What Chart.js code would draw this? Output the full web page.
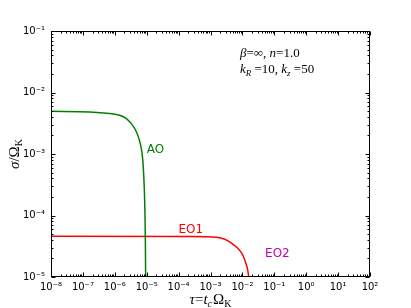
<!DOCTYPE html>
<html>
<head>
<meta charset="utf-8">
<script src="https://cdn.jsdelivr.net/npm/chart.js@4.4.1/dist/chart.umd.min.js"></script>
<style>
  html, body { margin: 0; padding: 0; background: #ffffff; }
  #wrap { width: 411px; height: 308px; }
</style>
</head>
<body>
<div id="wrap"><canvas id="growth_chart"></canvas></div>
<script>
// decade exponents shown on the axes
const xDecades = [-8, -7, -6, -5, -4, -3, -2, -1, 0, 1, 2]
const yDecades = [-5, -4, -3, -2, -1]

// AO branch
const aoTau = [1e-8, 1.62e-7, 6.87e-7, 1.42e-6, 2.3e-6, 3.3e-6, 4.5e-6, 5.71e-6, 6.79e-6, 7.46e-6, 7.85e-6, 8.2e-6, 8.63e-6, 9.08e-6, 9.27e-6, 9.3e-6]
const aoSigma = [4.94e-3, 4.82e-3, 4.54e-3, 4.26e-3, 3.77e-3, 3.12e-3, 2.43e-3, 1.78e-3, 1.22e-3, 8.42e-4, 5.79e-4, 3.74e-4, 1.77e-4, 3.95e-5, 1e-5, 6.1e-6]

// EO1 branch
const eoTau = [1e-8, 2.2e-4, 1.57e-3, 2.8e-3, 4.64e-3, 7.17e-3, 9.58e-3, 1.19e-2, 1.43e-2, 1.59e-2, 1.71e-2]
const eoSigma = [4.59e-5, 4.57e-5, 4.42e-5, 4.1e-5, 3.53e-5, 2.93e-5, 2.43e-5, 1.89e-5, 1.38e-5, 1e-5, 7.9e-6]

// curve names and where they sit (data coords)
const curveNames = ["AO", "EO1", "EO2"]
const nameTau = [1.9e-5, 2.4e-4, 0.125]
const nameSigma = [1.15e-3, 5.9e-5, 2.34e-5]
const nameColors = ["#008000", "#ff0000", "#bf00bf"]

const sup = { "-": "\u207B", 0: "\u2070", 1: "\u00B9", 2: "\u00B2", 3: "\u00B3", 4: "\u2074", 5: "\u2075", 6: "\u2076", 7: "\u2077", 8: "\u2078", 9: "\u2079" }
const powLabel = (v) => {
  const e = Math.round(Math.log10(v))
  return "10" + String(e).split("").map((c) => sup[c]).join("")
}

const serif = "'Liberation Serif', 'DejaVu Serif', serif"

// draw a run of [text, font, dy, gap] pieces starting at x,y
function rich(ctx, parts, x, y) {
  parts.forEach(([t, f, dy, gap]) => {
    ctx.font = f
    ctx.fillText(t, x, y + (dy || 0))
    x += ctx.measureText(t).width + (gap || 0)
  })
  return x
}
function richWidth(ctx, parts) {
  let w = 0
  parts.forEach(([t, f, dy, gap]) => {
    ctx.font = f
    w += ctx.measureText(t).width + (gap || 0)
  })
  return w
}

const frameTicks = {
  id: "frameTicks",
  afterDatasetsDraw(chart) {
    const { ctx, chartArea: a, scales } = chart
    ctx.save()
    ctx.strokeStyle = "#000000"
    ctx.lineWidth = 1
    const line = (x1, y1, x2, y2) => {
      ctx.beginPath()
      ctx.moveTo(x1, y1)
      ctx.lineTo(x2, y2)
      ctx.stroke()
    }
    const L = a.left + 0.5, R = a.right - 0.5, T = a.top + 0.5, B = a.bottom - 0.5
    xDecades.forEach((d) => {
      for (let m = 1; m <= 9; m++) {
        const v = m * Math.pow(10, d)
        if (v > 100.0001) break
        const px = Math.round(scales.x.getPixelForValue(v)) + 0.5
        const len = m === 1 ? 4 : 2
        line(px, B, px, B - len)
        line(px, T, px, T + len)
      }
    })
    yDecades.forEach((d) => {
      for (let m = 1; m <= 9; m++) {
        const v = m * Math.pow(10, d)
        if (v > 0.100001) break
        const py = Math.round(scales.y.getPixelForValue(v)) + 0.5
        const len = m === 1 ? 4 : 2
        line(L, py, L + len, py)
        line(R, py, R - len, py)
      }
    })
    ctx.strokeRect(L, T, R - L, B - T)

    // curve names
    ctx.textBaseline = "middle"
    ctx.textAlign = "center"
    ctx.font = "12px 'DejaVu Sans'"
    curveNames.forEach((n, i) => {
      ctx.fillStyle = nameColors[i]
      ctx.fillText(n, scales.x.getPixelForValue(nameTau[i]), scales.y.getPixelForValue(nameSigma[i]))
    })

    // parameter note
    ctx.fillStyle = "#000000"
    ctx.textAlign = "left"
    ctx.textBaseline = "alphabetic"
    const it = "italic 13px " + serif, rm = "13px " + serif, sub = "italic 9px " + serif
    rich(ctx, [["\u03B2", it], ["=\u221E, ", rm], ["n", it], ["=1.0", rm]], 240, 57)
    rich(ctx, [["k", it], ["R", sub, 3], [" =10, ", rm], ["k", it], ["z", sub, 3], [" =50", rm]], 240, 73)

    // axis titles
    const xt = [["\u03C4", "italic 15px " + serif], ["=", "15px " + serif], ["t", "italic 15px " + serif], ["c", "italic 10px " + serif, 3, 1], ["\u03A9", "15px " + serif], ["K", "10px " + serif, 3]]
    const xw = richWidth(ctx, xt)
    rich(ctx, xt, (a.left + a.right) / 2 - xw / 2, 304)

    const yt = [["\u03C3", "italic 15px " + serif], ["/\u03A9", "15px " + serif], ["K", "10px " + serif, 3]]
    const yw = richWidth(ctx, yt)
    ctx.translate(19, (a.top + a.bottom) / 2)
    ctx.rotate(-Math.PI / 2)
    rich(ctx, yt, -yw / 2, 0)
    ctx.restore()
  },
}

new Chart(document.getElementById("growth_chart"), {
  type: "line",
  plugins: [frameTicks],
  data: {
    datasets: [
      {
        label: "AO",
        data: aoTau.map((t, i) => ({ x: t, y: aoSigma[i] })),
        borderColor: "#008000",
        borderWidth: 1.5,
        pointRadius: 0,
        cubicInterpolationMode: "monotone",
      },
      {
        label: "EO1",
        data: eoTau.map((t, i) => ({ x: t, y: eoSigma[i] })),
        borderColor: "#ff0000",
        borderWidth: 1.5,
        pointRadius: 0,
        cubicInterpolationMode: "monotone",
      },
    ],
  },
  options: {
    responsive: true,
    maintainAspectRatio: false,
    animation: false,
    devicePixelRatio: 1,
    layout: { padding: { top: 31, right: 41, left: 0, bottom: 0 } },
    plugins: {
      legend: { display: false },
      tooltip: { enabled: false },
    },
    scales: {
      x: {
        type: "logarithmic",
        min: 1e-8,
        max: 100,
        afterBuildTicks: (s) => {
          s.ticks = xDecades.map((d) => ({ value: Math.pow(10, d) }))
        },
        afterFit: (s) => {
          s.height = 31
        },
        grid: { display: false, drawTicks: false },
        border: { display: false },
        ticks: {
          color: "#000000",
          font: { family: "DejaVu Sans", size: 10 },
          padding: 4,
          maxRotation: 0,
          autoSkip: false,
          callback: (v) => powLabel(v),
        },
      },
      y: {
        type: "logarithmic",
        min: 1e-5,
        max: 0.1,
        afterBuildTicks: (s) => {
          s.ticks = yDecades.map((d) => ({ value: Math.pow(10, d) }))
        },
        afterFit: (s) => {
          s.width = 51
        },
        grid: { display: false, drawTicks: false },
        border: { display: false },
        ticks: {
          color: "#000000",
          font: { family: "DejaVu Sans", size: 10 },
          padding: 6,
          autoSkip: false,
          callback: (v) => powLabel(v),
        },
      },
    },
  },
})
</script>
</body>
</html>
